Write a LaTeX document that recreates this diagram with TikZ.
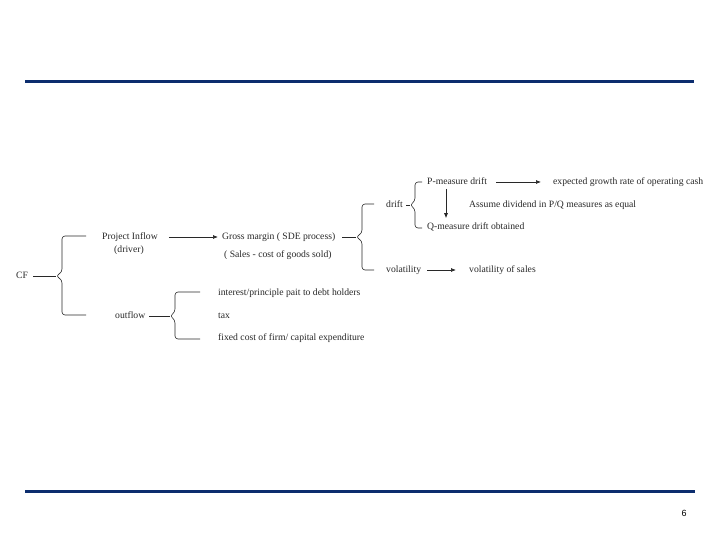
\documentclass[tikz,border=0pt]{standalone}
\usepackage{fontspec}
\setmainfont{Liberation Serif}
\newfontfamily\pagenumfont{Liberation Sans}
\usepackage{xcolor}
\usepackage{tikz}
\usetikzlibrary{arrows.meta, positioning}
\definecolor{navy}{RGB}{12,45,110}
\definecolor{ink}{RGB}{40,40,40}

\begin{document}
\begin{tikzpicture}[
    x=1bp, y=-1bp,
    font=\fontsize{9.7}{11}\selectfont,
    lbl/.style={inner sep=1pt, text=ink, anchor=west, text height=1.55ex, text depth=0.45ex},
    brc/.style={draw=ink, line width=0.6bp, rounded corners=3bp},
    link/.style={draw=ink, line width=0.7bp},
    arr/.style={-{Latex[length=5bp, width=4bp]}, draw=ink, line width=0.7bp},
    rulebar/.style={draw=navy, line width=3bp}
  ]
    \useasboundingbox (0,0) rectangle (720,540);
    \fill[white] (0,0) rectangle (720,540);

    % Header and footer rules
    \coordinate (hdl) at (25,82);  \coordinate (hdr) at (694,82);
    \coordinate (ftl) at (25,491); \coordinate (ftr) at (695,491);
    \draw[rulebar] (hdl) -- (hdr);
    \draw[rulebar] (ftl) -- (ftr);
    \node[inner sep=0pt, font=\pagenumfont\fontsize{9}{10}\selectfont] (pagenum) at (684,513) {6};

    % Cash flow split
    \node[lbl] (cf)      at (15,276)  {CF};
    \node[lbl] (inflow)  at (101,237) {Project Inflow};
    \node[lbl, anchor=center] (driver) at (129,250) {(driver)};
    \node[lbl] (outflow) at (114,316) {outflow};

    \coordinate (tipcf) at (56,276);
    \draw[link] (cf.east) ++(4,0) -- (tipcf);
    \draw[brc] (86,236) -- (62,236) -- (62,272) -- (tipcf) -- (62,280) -- (62,315) -- (86,315);

    % Inflow side
    \node[lbl] (gross) at (221,237) {Gross margin ( SDE process)};
    \node[lbl] (sales) at (223,255) {( Sales - cost of goods sold)};
    \draw[arr, shorten >=3bp] ([xshift=10bp]inflow.east) -- (gross.west);

    \coordinate (tipgross) at (356,237);
    \draw[link] ([xshift=6bp]gross.east) -- (tipgross);
    \draw[brc] (374,204) -- (362,204) -- (362,233) -- (tipgross) -- (362,241) -- (362,270) -- (374,270);

    \node[lbl] (drift) at (385,205) {drift};
    \node[lbl] (vol)   at (385,270) {volatility};

    % Drift under P and Q
    \coordinate (tipdrift) at (410,205);
    \draw[link] ([xshift=2bp]drift.east) -- (tipdrift);
    \draw[brc] (422,182) -- (415,182) -- (415,201) -- (tipdrift) -- (415,209) -- (415,228) -- (422,228);

    \node[lbl] (pdrift) at (426,182) {P-measure drift};
    \node[lbl] (qdrift) at (426,227) {Q-measure drift obtained};
    \node[lbl] (assume) at (468,205) {Assume dividend in P/Q measures as equal};
    \node[lbl] (growth) at (552,182) {expected growth rate of operating cash};

    \draw[arr, shorten >=11bp] ([xshift=8bp]pdrift.east) -- (growth.west);
    \draw[arr] ([xshift=20bp,yshift=-1bp]pdrift.south west) -- ([xshift=20bp,yshift=3bp]qdrift.north west);

    % Volatility
    \node[lbl] (volsales) at (468,270) {volatility of sales};
    \draw[arr, shorten >=12bp] ([xshift=5bp]vol.east) -- (volsales.west);

    % Outflow side
    \coordinate (tipout) at (170,316);
    \draw[link] ([xshift=3bp]outflow.east) -- (tipout);
    \draw[brc] (200,292) -- (175,292) -- (175,312) -- (tipout) -- (175,320) -- (175,339) -- (200,339);

    \node[lbl] (interest) at (217,293) {interest/principle pait to debt holders};
    \node[lbl] (tax)      at (217,316) {tax};
    \node[lbl] (fixed)    at (217,338) {fixed cost of firm/ capital expenditure};
\end{tikzpicture}
\end{document}
